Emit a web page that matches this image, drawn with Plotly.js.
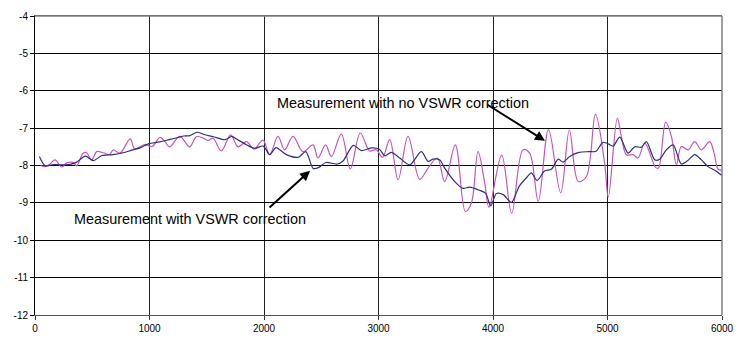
<!DOCTYPE html>
<html>
<head>
<meta charset="utf-8">
<script src="https://cdn.plot.ly/plotly-3.0.1.min.js"></script>
<style>html,body{margin:0;padding:0;background:#fff;}#chart{width:745px;height:345px;}</style>
</head>
<body>
<div id="chart"></div>
<script>
// Measurement with VSWR correction (navy)
const withX = [38, 90, 150, 220, 306, 364, 440, 509, 582, 680, 770, 844, 917, 990, 1090, 1180, 1250, 1300, 1354, 1415, 1475, 1560, 1660, 1718, 1765, 1850, 1921, 1994, 2050, 2105, 2195, 2300, 2365, 2430, 2480, 2540, 2640, 2690, 2780, 2850, 2940, 3010, 3054, 3112, 3185, 3273, 3374, 3433, 3476, 3535, 3578, 3666, 3738, 3797, 3869, 3935, 3980, 4030, 4090, 4160, 4230, 4300, 4335, 4385, 4450, 4510, 4570, 4612, 4670, 4750, 4840, 4900, 4960, 5005, 5049, 5107, 5180, 5238, 5296, 5340, 5413, 5456, 5514, 5573, 5645, 5704, 5762, 5820, 5878, 5937, 6000];
const withY = [-7.76, -8.01, -7.98, -7.98, -7.97, -7.91, -7.75, -7.87, -7.74, -7.71, -7.66, -7.59, -7.53, -7.42, -7.37, -7.30, -7.25, -7.21, -7.20, -7.11, -7.17, -7.23, -7.31, -7.22, -7.30, -7.45, -7.54, -7.48, -7.71, -7.52, -7.71, -7.78, -7.63, -8.08, -8.05, -7.92, -7.96, -7.88, -7.46, -7.60, -7.53, -7.57, -7.74, -7.65, -7.80, -7.98, -7.63, -7.89, -7.83, -7.85, -8.07, -8.43, -8.61, -8.58, -8.65, -8.74, -9.08, -8.75, -8.78, -8.99, -8.55, -8.30, -8.20, -8.40, -8.15, -8.10, -7.83, -7.91, -7.76, -7.65, -7.63, -7.62, -7.38, -7.42, -7.48, -7.24, -7.67, -7.50, -7.51, -7.36, -7.85, -7.83, -7.58, -7.45, -7.96, -7.86, -7.71, -7.85, -8.03, -8.13, -8.27];

// Measurement with no VSWR correction (magenta)
const noX = [50, 87, 131, 175, 233, 277, 335, 364, 420, 451, 495, 539, 597, 650, 684, 742, 832, 870, 958, 1025, 1089, 1130, 1176, 1264, 1351, 1409, 1467, 1511, 1555, 1627, 1709, 1773, 1846, 1913, 1991, 2049, 2122, 2180, 2253, 2340, 2428, 2471, 2538, 2588, 2675, 2754, 2841, 2923, 2981, 3035, 3098, 3171, 3258, 3360, 3433, 3514, 3578, 3671, 3759, 3811, 3869, 3928, 3965, 4076, 4163, 4262, 4320, 4395, 4485, 4591, 4667, 4745, 4815, 4895, 4975, 5007, 5086, 5121, 5165, 5223, 5267, 5325, 5420, 5445, 5508, 5558, 5602, 5645, 5704, 5762, 5820, 5893, 5931, 5966, 6000];
const noY = [-8.00, -8.03, -7.96, -7.85, -8.04, -7.93, -7.92, -8.01, -7.67, -7.66, -7.85, -7.63, -7.66, -7.71, -7.58, -7.67, -7.29, -7.55, -7.44, -7.49, -7.25, -7.34, -7.50, -7.22, -7.50, -7.23, -7.26, -7.33, -7.27, -7.61, -7.18, -7.50, -7.36, -7.56, -7.32, -7.71, -7.22, -7.58, -7.22, -7.63, -7.45, -7.80, -7.45, -7.76, -7.16, -8.09, -7.13, -7.61, -7.58, -7.78, -7.31, -8.38, -7.22, -8.37, -8.07, -7.80, -8.43, -7.45, -9.23, -9.01, -7.63, -8.47, -9.12, -7.72, -9.28, -7.58, -7.67, -8.96, -7.04, -8.73, -7.05, -8.43, -8.30, -6.63, -7.94, -8.85, -6.73, -7.22, -7.71, -7.71, -7.80, -7.40, -8.05, -8.07, -6.84, -7.22, -7.98, -7.49, -7.58, -7.36, -7.58, -7.36, -7.67, -8.10, -8.12];

const xTicks = [0, 1000, 2000, 3000, 4000, 5000, 6000];
const yTicks = [-12, -11, -10, -9, -8, -7, -6, -5, -4];

const labelNo = 'Measurement with no VSWR correction';
const labelWith = 'Measurement with VSWR correction';

const traces = [
  {x: noX, y: noY, type: 'scatter', mode: 'lines', name: labelNo,
   line: {color: '#C557B8', width: 1.2, shape: 'spline', smoothing: 1}},
  {x: withX, y: withY, type: 'scatter', mode: 'lines', name: labelWith,
   line: {color: '#2E2F84', width: 1.2, shape: 'spline', smoothing: 0.8}}
];

const font = {family: 'Liberation Sans, Arial, sans-serif', size: 10, color: '#000'};
const annFont = {family: 'Liberation Sans, Arial, sans-serif', size: 14.4, color: '#000'};

const layout = {
  width: 745, height: 345,
  margin: {l: 35, r: 23, t: 16, b: 30, pad: 0},
  paper_bgcolor: '#fff', plot_bgcolor: '#fff',
  showlegend: false,
  font: font,
  xaxis: {
    range: [0, 6000], tickvals: xTicks, ticktext: xTicks.map(String),
    showgrid: true, gridcolor: '#222', gridwidth: 1,
    showline: true, linecolor: '#555', linewidth: 1.2, mirror: true,
    ticks: 'outside', ticklen: 4, tickcolor: '#333',
    zeroline: false, tickfont: font, fixedrange: true
  },
  yaxis: {
    range: [-12, -4], tickvals: yTicks, ticktext: yTicks.map(String),
    showgrid: true, gridcolor: '#000', gridwidth: 1,
    showline: true, linecolor: '#000', linewidth: 1,
    ticks: 'outside', ticklen: 4, tickcolor: '#000',
    zeroline: false, tickfont: font, fixedrange: true
  },
  shapes: [
    {type: 'line', xref: 'paper', yref: 'paper', x0: 1, x1: 1, y0: 0, y1: 1,
     line: {color: '#808080', width: 1.5}},
    {type: 'line', xref: 'paper', yref: 'paper', x0: 0, x1: 1, y0: 1, y1: 1,
     line: {color: '#808080', width: 1.5}}
  ],
  annotations: [
    {x: 3214, y: -6.33, xref: 'x', yref: 'y', text: labelNo, showarrow: false, font: annFont},
    {x: 1354, y: -9.43, xref: 'x', yref: 'y', text: labelWith, showarrow: false, font: annFont},
    {x: 4454, y: -7.34, xref: 'x', yref: 'y', ax: 3939, ay: -6.35, axref: 'x', ayref: 'y',
     text: '', showarrow: true, arrowhead: 2, arrowsize: 1, arrowwidth: 2, arrowcolor: '#000'},
    {x: 2402, y: -8.14, xref: 'x', yref: 'y', ax: 2035, ay: -9.16, axref: 'x', ayref: 'y',
     text: '', showarrow: true, arrowhead: 2, arrowsize: 1, arrowwidth: 2, arrowcolor: '#000'}
  ]
};

Plotly.newPlot('chart', traces, layout, {displayModeBar: false, staticPlot: true});
</script>
</body>
</html>
